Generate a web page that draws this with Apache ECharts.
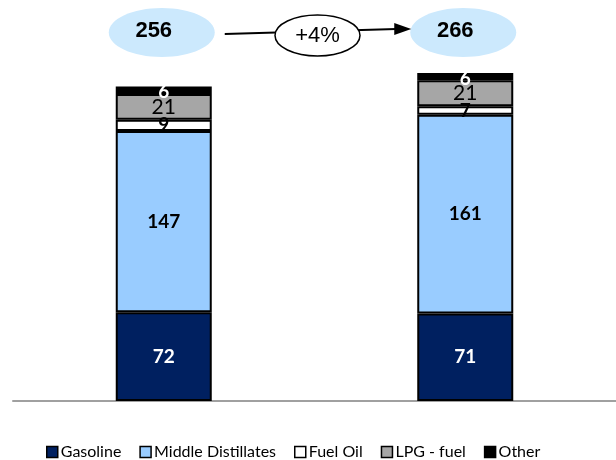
<!DOCTYPE html>
<html>
<head>
<meta charset="utf-8">
<script src="https://cdn.jsdelivr.net/npm/echarts@6/dist/echarts.min.js"></script>
<style>
  html, body { margin: 0; padding: 0; background: #fff; }
  #chart { width: 616px; height: 460px; }
</style>
</head>
<body>
<div id="chart"></div>
<script>
// Fuel demand by product, two periods
const categories = ['Period 1', 'Period 2'];
const gasoline = [72, 71];
const middleDistillates = [147, 161];
const fuelOil = [9, 7];
const lpgFuel = [21, 21];
const other = [6, 6];
const totals = [256, 266];

const seriesNames = ['Gasoline', 'Middle Distillates', 'Fuel Oil', 'LPG - fuel', 'Other'];
const seriesData = [gasoline, middleDistillates, fuelOil, lpgFuel, other];
const seriesColors = ['#002060', '#99ccff', '#ffffff', '#a6a6a6', '#000000'];
const labelColors = ['#ffffff', '#000000', '#000000', '#000000', '#ffffff'];
const labelWeights = ['bold', 'bold', 'bold', 'normal', 'bold'];
const labelSizes = [19, 19, 19, 21, 19];

const chart = echarts.init(document.getElementById('chart'), null, { renderer: 'canvas' });

const series = seriesNames.map((name, i) => {
  const isTop = i === seriesNames.length - 1;
  return {
    name: name,
    type: 'bar',
    stack: 'total',
    barWidth: 96,
    data: seriesData[i],
    itemStyle: { color: seriesColors[i], borderColor: '#000', borderWidth: 2 },
    label: {
      show: true,
      // the thin top segment gets its label hanging from the bar top
      position: isTop ? ['50%', -4] : 'inside',
      align: 'center',
      verticalAlign: isTop ? 'top' : 'middle',
      color: labelColors[i],
      textBorderWidth: 0,
      textBorderColor: 'transparent',
      fontFamily: 'Lato',
      fontWeight: labelWeights[i],
      fontSize: labelSizes[i]
    },
    labelLayout: { hideOverlap: false },
    emphasis: { disabled: true }
  };
});

chart.setOption({
  animation: false,
  grid: { left: 13, right: -6, top: 31, bottom: 59 },
  xAxis: {
    type: 'category',
    data: categories,
    axisLine: { show: true, lineStyle: { color: '#a0a0a0', width: 2 } },
    axisTick: { show: false },
    axisLabel: { show: false }
  },
  yAxis: {
    type: 'value',
    min: 0,
    max: 300,
    show: false,
    splitLine: { show: false }
  },
  legend: {
    left: 46,
    top: 444,
    padding: 0,
    itemWidth: 11,
    itemHeight: 11,
    itemGap: 18,
    icon: 'rect',
    itemStyle: { borderColor: '#000', borderWidth: 1.5 },
    textStyle: { fontFamily: 'Lato', fontSize: 16, color: '#000', padding: [0, 0, 0, -2] },
    data: seriesNames
  },
  series: series
});

// Total bubbles above each bar, with the growth arrow between them
const xs = categories.map((c) => chart.convertToPixel({ xAxisIndex: 0, yAxisIndex: 0 }, [c, 0])[0]);
const change = Math.round((totals[1] - totals[0]) / totals[0] * 100);
const changeText = (change >= 0 ? '+' : '') + change + '%';
const midX = (xs[0] + xs[1]) / 2 + 3;

const graphics = [];
xs.forEach((x, i) => {
  graphics.push({
    type: 'ellipse',
    shape: { cx: x - 2, cy: 32.5, rx: 53, ry: 24.5 },
    style: { fill: '#cce9fd' },
    z: 10
  });
  graphics.push({
    type: 'rect',
    shape: { x: x + 32, y: 6, width: 12, height: 8 },
    style: { fill: '#ffffff' },
    z: 11
  });
  graphics.push({
    type: 'text',
    x: x - 10,
    y: 31,
    style: {
      text: String(totals[i]),
      fontFamily: 'Liberation Sans',
      fontWeight: 'bold',
      fontSize: 22,
      fill: '#000',
      align: 'center',
      verticalAlign: 'middle'
    },
    z: 12
  });
});
graphics.push({
  type: 'line',
  shape: { x1: xs[0] + 61, y1: 34, x2: xs[1] - 69, y2: 29 },
  style: { stroke: '#000', lineWidth: 2 },
  z: 10
});
graphics.push({
  type: 'polygon',
  shape: { points: [[xs[1] - 71, 23], [xs[1] - 54, 29], [xs[1] - 71, 35]] },
  style: { fill: '#000' },
  z: 10
});
graphics.push({
  type: 'ellipse',
  shape: { cx: midX, cy: 35.5, rx: 42.5, ry: 20.5 },
  style: { fill: '#ffffff', stroke: '#000', lineWidth: 1.5 },
  z: 11
});
graphics.push({
  type: 'text',
  x: midX,
  y: 36,
  style: {
    text: changeText,
    fontFamily: 'Liberation Sans',
    fontSize: 22,
    fill: '#000',
    align: 'center',
    verticalAlign: 'middle'
  },
  z: 12
});

chart.setOption({ graphic: graphics });
</script>
</body>
</html>
